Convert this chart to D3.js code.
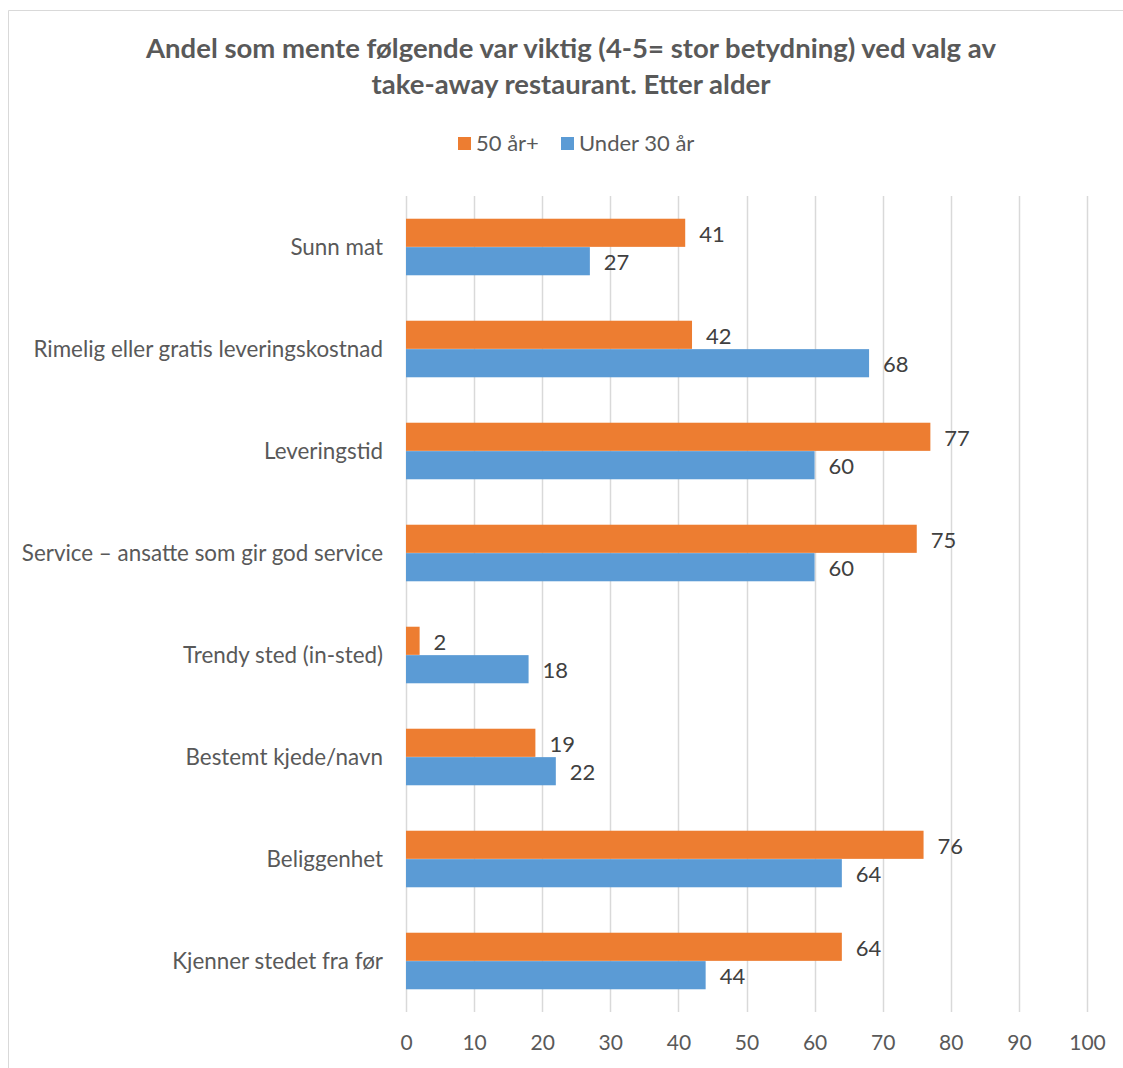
<!DOCTYPE html>
<html>
<head>
<meta charset="utf-8">
<script src="https://cdn.jsdelivr.net/npm/d3@7"></script>
<style>
  html, body { margin: 0; padding: 0; background: #fff; }
  svg { display: block; font-family: Lato, "Open Sans", sans-serif; }
</style>
</head>
<body>
<svg id="chart" width="1123" height="1068"></svg>
<script>
// Survey shares (%) by category and age group
const categories = [
  "Sunn mat",
  "Rimelig eller gratis leveringskostnad",
  "Leveringstid",
  "Service – ansatte som gir god service",
  "Trendy sted (in-sted)",
  "Bestemt kjede/navn",
  "Beliggenhet",
  "Kjenner stedet fra før"
];
const seriesNames = ["50 år+", "Under 30 år"];
const values50plus = [41, 42, 77, 75, 2, 19, 76, 64];
const valuesUnder30 = [27, 68, 60, 60, 18, 22, 64, 44];
const xTicks = [0, 10, 20, 30, 40, 50, 60, 70, 80, 90, 100];
const colors = ["#ED7D31", "#5B9BD5"];

const svg = d3.select("#chart");
const W = 1123, H = 1068;
const plot = { left: 406, right: 1087, top: 196, bottom: 1012 };
const FONT = "Lato, 'Open Sans', sans-serif";

// Chart frame
svg.append("path")
  .attr("d", `M8.5,${H} L8.5,10.5 L${W},10.5`)
  .attr("fill", "none")
  .attr("stroke", "#D9D9D9")
  .attr("stroke-width", 1);

// Title
const title = svg.append("text")
  .attr("text-anchor", "middle")
  .attr("fill", "#595959")
  .attr("font-weight", "bold")
  .attr("font-size", 27.5);
title.append("tspan").attr("x", 571).attr("y", 58)
  .text("Andel som mente følgende var viktig (4-5= stor betydning) ved valg av");
title.append("tspan").attr("x", 571).attr("y", 94)
  .text("take-away restaurant. Etter alder");

// Scales
const x = d3.scaleLinear().domain([0, 100]).range([plot.left, plot.right]);
const y0 = d3.scaleBand().domain(categories).range([plot.top, plot.bottom]).paddingInner(0.44).paddingOuter(0.22);
const y1 = d3.scaleBand().domain(seriesNames).range([0, y0.bandwidth()]).padding(0.01);

// Gridlines
svg.append("g")
  .selectAll("line")
  .data(xTicks)
  .join("line")
  .attr("x1", d => Math.round(x(d)) + 0.5)
  .attr("x2", d => Math.round(x(d)) + 0.5)
  .attr("y1", plot.top)
  .attr("y2", plot.bottom)
  .attr("stroke", "#D9D9D9")
  .attr("stroke-width", 1.5);

// X axis labels
const xAxis = d3.axisBottom(x).tickValues(xTicks).tickSize(0).tickPadding(0);
const gx = svg.append("g").attr("transform", `translate(0, ${plot.bottom + 23})`).call(xAxis);
gx.select(".domain").remove();
gx.selectAll("text")
  .attr("font-size", 21)
  .attr("fill", "#595959")
  .attr("font-family", FONT)
  .attr("dy", "0.71em");

// Category labels
const yAxis = d3.axisLeft(y0).tickSize(0).tickPadding(0);
const gy = svg.append("g").attr("transform", `translate(383, 1)`).call(yAxis);
gy.select(".domain").remove();
gy.selectAll("text")
  .attr("font-size", 22.4)
  .attr("fill", "#595959")
  .attr("font-family", FONT);

// Bars
const rows = categories.map((c, i) => ({ cat: c, vals: [values50plus[i], valuesUnder30[i]] }));
const groups = svg.append("g").selectAll("g")
  .data(rows)
  .join("g")
  .attr("transform", d => `translate(0, ${y0(d.cat)})`);

groups.selectAll("rect")
  .data(d => d.vals.map((v, j) => ({ v, s: seriesNames[j], j })))
  .join("rect")
  .attr("x", x(0))
  .attr("y", d => y1(d.s))
  .attr("width", d => x(d.v) - x(0))
  .attr("height", y1.bandwidth())
  .attr("fill", d => colors[d.j]);

groups.selectAll("text")
  .data(d => d.vals.map((v, j) => ({ v, s: seriesNames[j], j })))
  .join("text")
  .attr("x", d => x(d.v) + 14)
  .attr("y", d => y1(d.s) + y1.bandwidth() / 2 + 1.5)
  .attr("dy", "0.35em")
  .attr("font-size", 22)
  .attr("fill", "#404040")
  .text(d => d.v);

// Legend
const legend = svg.append("g").attr("font-size", 22).attr("fill", "#595959");
const legendItems = [{ name: seriesNames[0], x: 458 }, { name: seriesNames[1], x: 561 }];
legendItems.forEach((it, i) => {
  legend.append("rect").attr("x", it.x).attr("y", 137).attr("width", 13).attr("height", 13).attr("fill", colors[i]);
  legend.append("text").attr("x", it.x + 18).attr("y", 151).text(it.name);
});
</script>
</body>
</html>
